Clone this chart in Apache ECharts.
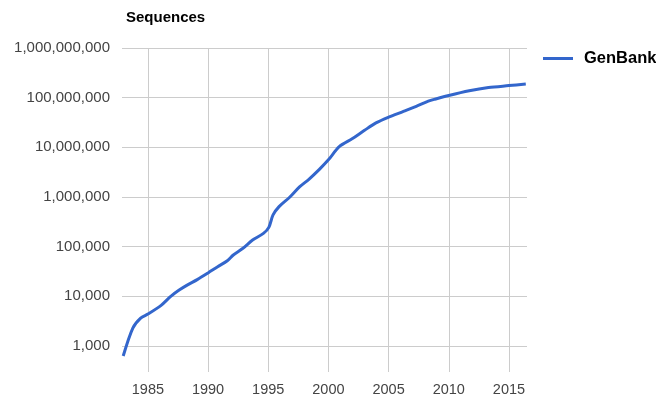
<!DOCTYPE html>
<html>
<head>
<meta charset="utf-8">
<script src="https://cdn.jsdelivr.net/npm/echarts@6/dist/echarts.min.js"></script>
<style>html,body{margin:0;padding:0;background:#fff}#c{width:656px;height:401px}</style>
</head>
<body>
<div id="c"></div>
<script>
var years = [1982.95, 1983.75, 1984.4, 1985.0, 1986.1, 1986.9, 1987.6, 1988.3, 1989.1, 1990.0, 1990.8, 1991.6, 1992.1, 1992.9, 1993.7, 1994.6, 1995.05, 1995.4, 1995.9, 1996.8, 1997.6, 1998.4, 1999.25, 2000.0, 2000.9, 2002.0, 2003.0, 2003.95, 2005.05, 2006.15, 2007.3, 2008.3, 2008.9, 2010.0, 2011.7, 2013.3, 2015.0, 2016.4];
var sequences = [630, 2300, 3650, 4400, 6600, 10000, 13400, 17000, 21700, 29600, 39500, 52000, 68000, 93000, 136000, 185000, 245000, 436000, 640000, 1000000, 1600000, 2300000, 3600000, 5600000, 10300000, 15000000, 22000000, 31000000, 41000000, 52000000, 67000000, 85000000, 94000000, 111000000, 138000000, 160000000, 175000000, 188000000];
var yTickValues = [1000, 10000, 100000, 1000000, 10000000, 100000000, 1000000000];
var xTickYears = [1985, 1990, 1995, 2000, 2005, 2010, 2015];

var data = years.map(function (y, i) { return [y, sequences[i]]; });
function fmt(v) { return Math.round(v).toString().replace(/\B(?=(\d{3})+(?!\d))/g, ','); }

var chart = echarts.init(document.getElementById('c'), null, {renderer: 'canvas'});
chart.setOption({
  animation: false,
  backgroundColor: '#ffffff',
  title: {
    text: 'Sequences',
    left: 121, top: 5,
    textStyle: {fontFamily: 'Liberation Sans, Arial', fontSize: 15, fontWeight: 'bold', color: '#000'}
  },
  legend: {
    left: 538, top: 45,
    icon: 'rect', itemWidth: 30, itemHeight: 3, itemGap: 10,
    textStyle: {fontFamily: 'Liberation Sans, Arial', fontSize: 16.5, fontWeight: 'bold', color: '#000', padding: [0, 0, 0, 6]},
    data: ['GenBank']
  },
  grid: {left: 122, right: 129, top: 48, bottom: 29, containLabel: false},
  xAxis: {
    type: 'value', min: 1982.85, max: 2016.5,
    axisLine: {show: false},
    axisTick: {show: false, customValues: xTickYears},
    axisLabel: {
      customValues: xTickYears, margin: 10,
      fontFamily: 'Liberation Sans, Arial', fontSize: 14.5, color: '#444',
      formatter: function (v) { return String(Math.round(v)); }
    },
    splitLine: {show: true, lineStyle: {color: '#cccccc', width: 1}}
  },
  yAxis: {
    type: 'log', logBase: 10, min: 300, max: 1000000000,
    axisLine: {show: false}, axisTick: {show: false},
    axisLabel: {
      showMinLabel: false, margin: 12,
      fontFamily: 'Liberation Sans, Arial', fontSize: 15, color: '#444',
      formatter: function (v) {
        for (var i = 0; i < yTickValues.length; i++) {
          if (Math.abs(v - yTickValues[i]) / yTickValues[i] < 1e-6) return fmt(yTickValues[i]);
        }
        return '';
      }
    },
    splitLine: {show: true, showMinLine: false, lineStyle: {color: '#cccccc', width: 1}}
  },
  series: [{
    name: 'GenBank', type: 'line', data: data,
    symbol: 'none', smooth: 0.3,
    lineStyle: {color: '#3366cc', width: 3},
    itemStyle: {color: '#3366cc'}
  }]
});
</script>
</body>
</html>
